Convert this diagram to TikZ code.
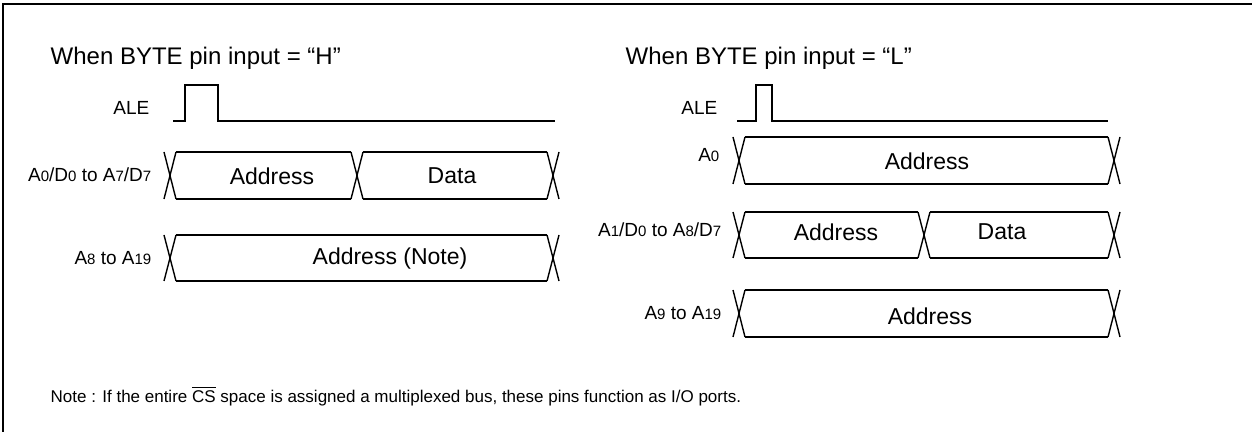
\documentclass[tikz,border=0pt]{standalone}
\usepackage{fontspec}
\setmainfont{Liberation Sans}
\usepackage{tikz}

\newcommand{\pinno}[1]{{\fontsize{7.5}{8}\selectfont #1}}

\begin{document}
\begin{tikzpicture}
  [x=0.5pt,y=-0.5pt,line width=0.7pt,
   every node/.style={inner sep=0pt},
   title/.style={font=\fontsize{12}{14}\selectfont,anchor=west},
   sig/.style={font=\fontsize{9.5}{11}\selectfont,anchor=east},
   val/.style={font=\fontsize{11.5}{13}\selectfont}]
  \useasboundingbox (0,0) rectangle (1252,432);
  \draw[line width=1.3pt] (3,432) -- (3,4) -- (1252,4);

  % BYTE = H
  \node[title] (th) at (50,58) {When BYTE pin input = “H”};
  \node[sig] (ale1) at (150,108) {ALE};
  \node[sig] (ad1) at (152,175) {A\pinno{0}/D\pinno{0} to A\pinno{7}/D\pinno{7}};
  \node[sig] (ah1) at (152,258) {A\pinno{8} to A\pinno{19}};
  \draw (173,121) -- (185,121) -- (185,85) -- (218,85) -- (218,121) -- (555,121);
  \foreach \x in {170,357,553}
    \draw (\x-6,152) -- (\x+6,199) (\x-6,199) -- (\x+6,152);
  \foreach \a/\b in {170/357,357/553}
    \draw (\a+6,152) -- (\b-6,152) (\a+6,199) -- (\b-6,199);
  \foreach \x in {170,553}
    \draw (\x-6,235) -- (\x+6,281) (\x-6,281) -- (\x+6,235);
  \draw (176,235) -- (547,235) (176,281) -- (547,281);
  \node[val] (a1) at (272,176) {Address};
  \node[val] (d1) at (452,176) {Data};
  \node[val] (a2) at (390,259) {Address (Note)};

  % BYTE = L
  \node[title] (tl) at (625,58) {When BYTE pin input = “L”};
  \node[sig] (ale2) at (718,108) {ALE};
  \node[sig] (ad2) at (720,155) {A\pinno{0}};
  \node[sig] (ad3) at (722,230) {A\pinno{1}/D\pinno{0} to A\pinno{8}/D\pinno{7}};
  \node[sig] (ah2) at (722,313) {A\pinno{9} to A\pinno{19}};
  \draw (737,121) -- (756,121) -- (756,85) -- (772,85) -- (772,121) -- (1108,121);
  \foreach \y/\z in {137/184,290/337} {
    \foreach \x in {739,1114}
      \draw (\x-6,\y) -- (\x+6,\z) (\x-6,\z) -- (\x+6,\y);
    \draw (745,\y) -- (1108,\y) (745,\z) -- (1108,\z);
  }
  \foreach \x in {739,924,1114}
    \draw (\x-6,212) -- (\x+6,258) (\x-6,258) -- (\x+6,212);
  \foreach \a/\b in {739/924,924/1114}
    \draw (\a+6,212) -- (\b-6,212) (\a+6,258) -- (\b-6,258);
  \node[val] (a3) at (927,161) {Address};
  \node[val] (a4) at (836,232) {Address};
  \node[val] (d2) at (1002,232) {Data};
  \node[val] (a5) at (930,316) {Address};

  \node[anchor=west,font=\fontsize{8.5}{10}\selectfont] (note) at (50,396)
    {Note : If the entire $\overline{\mbox{CS}}$ space is assigned a multiplexed bus, these pins function as I/O ports.};
\end{tikzpicture}
\end{document}
